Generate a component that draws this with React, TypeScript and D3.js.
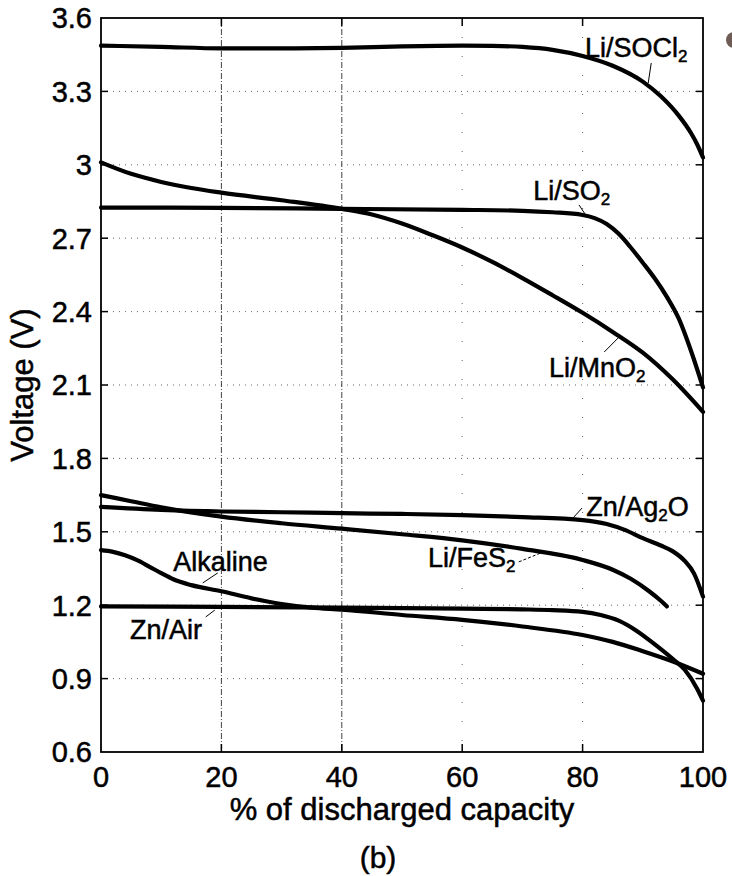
import React, { useEffect } from "react";
import * as d3 from "d3";

// ---- data (percent of discharged capacity, voltage) ----
const xTicks = [0, 20, 40, 60, 80, 100];
const yTicks = [0.6, 0.9, 1.2, 1.5, 1.8, 2.1, 2.4, 2.7, 3.0, 3.3, 3.6];
const yTickLabels = ["0.6", "0.9", "1.2", "1.5", "1.8", "2.1", "2.4", "2.7", "3", "3.3", "3.6"];

const socl2Pct = [0, 10, 20, 30, 40, 50, 60, 65, 70, 75, 80, 85, 90, 93, 96, 98, 99, 100];
const socl2V = [3.487, 3.482, 3.476, 3.476, 3.478, 3.484, 3.487, 3.486, 3.482, 3.47, 3.445, 3.405, 3.34, 3.28, 3.2, 3.13, 3.085, 3.03];

const so2Pct = [0, 20, 40, 60, 70, 75, 80, 82, 84, 86, 88, 90, 92, 94, 96, 98, 100];
const so2V = [2.825, 2.824, 2.82, 2.816, 2.812, 2.806, 2.795, 2.782, 2.758, 2.718, 2.662, 2.6, 2.535, 2.46, 2.37, 2.24, 2.09];

const mno2Pct = [0, 5, 10, 15, 20, 30, 40, 45, 50, 55, 60, 65, 70, 75, 80, 85, 90, 95, 100];
const mno2V = [3.01, 2.963, 2.93, 2.905, 2.886, 2.855, 2.82, 2.797, 2.76, 2.713, 2.662, 2.603, 2.537, 2.467, 2.395, 2.317, 2.232, 2.122, 1.99];

const ag2oPct = [0, 10, 20, 30, 40, 50, 60, 70, 80, 84, 87, 90, 93, 95, 97, 98.5, 100];
const ag2oV = [1.602, 1.59, 1.583, 1.58, 1.576, 1.573, 1.568, 1.56, 1.548, 1.532, 1.508, 1.474, 1.444, 1.42, 1.38, 1.33, 1.235];

const fes2Pct = [0, 5, 10, 20, 30, 40, 50, 60, 70, 80, 85, 88, 91, 93, 94];
const fes2V = [1.65, 1.625, 1.6, 1.562, 1.535, 1.513, 1.49, 1.465, 1.43, 1.385, 1.345, 1.308, 1.258, 1.218, 1.195];

const alkPct = [0, 2, 4, 6, 8, 10, 12, 15, 20, 25, 30, 35, 40, 50, 60, 70, 80, 85, 90, 95, 100];
const alkV = [1.425, 1.418, 1.404, 1.384, 1.358, 1.331, 1.306, 1.282, 1.257, 1.228, 1.205, 1.19, 1.182, 1.16, 1.14, 1.113, 1.078, 1.05, 1.012, 0.97, 0.92];

const airPct = [0, 20, 40, 60, 70, 75, 80, 83, 86, 89, 92, 95, 97, 99, 100];
const airV = [1.195, 1.193, 1.19, 1.186, 1.183, 1.18, 1.173, 1.16, 1.137, 1.095, 1.04, 0.98, 0.935, 0.86, 0.81];

const seriesList = [
  { name: "Li/SOCl2", pct: socl2Pct, v: socl2V },
  { name: "Li/SO2", pct: so2Pct, v: so2V },
  { name: "Li/MnO2", pct: mno2Pct, v: mno2V },
  { name: "Zn/Ag2O", pct: ag2oPct, v: ag2oV },
  { name: "Li/FeS2", pct: fes2Pct, v: fes2V },
  { name: "Alkaline", pct: alkPct, v: alkV },
  { name: "Zn/Air", pct: airPct, v: airV },
];

// label anchors in data units: text parts, x%, baseline V, leader from/to
type Part = { t: string; sub?: boolean };
const annotations: { parts: Part[]; x: number; y: number; l: [number, number, number, number]; dashed?: boolean }[] = [
  { parts: [{ t: "Li/SOCl" }, { t: "2", sub: true }], x: 80.4, y: 3.44, l: [91.4, 3.416, 90.9, 3.334] },
  { parts: [{ t: "Li/SO" }, { t: "2", sub: true }], x: 71.8, y: 2.856, l: [79.4, 2.836, 80.4, 2.799] },
  { parts: [{ t: "Li/MnO" }, { t: "2", sub: true }], x: 74.4, y: 2.133, l: [83.6, 2.235, 85.9, 2.292] },
  { parts: [{ t: "Zn/Ag" }, { t: "2", sub: true }, { t: "O" }], x: 80.6, y: 1.565, l: [78.4, 1.556, 79.9, 1.597] },
  { parts: [{ t: "Li/FeS" }, { t: "2", sub: true }], x: 54.3, y: 1.356, l: [69.4, 1.377, 73.4, 1.417], dashed: true },
  { parts: [{ t: "Alkaline" }], x: 12.0, y: 1.34, l: [16.9, 1.291, 19.4, 1.332] },
  { parts: [{ t: "Zn/Air" }], x: 4.8, y: 1.062, l: [17.4, 1.152, 18.9, 1.18] },
];

const FONT = "'Liberation Sans', Arial, Helvetica, sans-serif";

export default function App() {
  useEffect(() => {
    document.body.style.margin = "0";
  }, []);

  const W = 732, H = 876;
  const left = 101, right = 703, top = 18, bottom = 752;
  const x = d3.scaleLinear().domain([0, 100]).range([left, right]);
  const y = d3.scaleLinear().domain([0.6, 3.6]).range([bottom, top]);

  const line = d3
    .line<[number, number]>()
    .x((d) => x(d[0]))
    .y((d) => y(d[1]))
    .curve(d3.curveMonotoneX);

  const innerX = xTicks.filter((t) => t > 0 && t < 100);
  const innerY = yTicks.filter((t) => t > 0.6 && t < 3.6);
  const textStroke = { stroke: "#000", strokeWidth: 0.5 };

  return (
    <svg width={W} height={H} style={{ position: "absolute", left: 0, top: 0, display: "block", background: "#fff" }} fontFamily={FONT}>
      <rect x={0} y={0} width={W} height={H} fill="#fff" />
      {/* grid */}
      {innerY.map((t) => (
        <line key={"gy" + t} x1={left} x2={right} y1={y(t)} y2={y(t)} stroke="#333" strokeWidth={1} strokeDasharray="1,5" opacity={0.75} />
      ))}
      {innerX.map((t, i) => (
        <line key={"gx" + t} x1={x(t)} x2={x(t)} y1={top} y2={bottom} stroke="#222" strokeWidth={1}
          strokeDasharray={i < 2 ? "6,2,1,2" : "1,18"} opacity={i < 2 ? 0.85 : 0.7} />
      ))}
      {/* ticks */}
      {innerY.map((t) => (
        <g key={"ty" + t}>
          <line x1={left} x2={left + 7} y1={y(t)} y2={y(t)} stroke="#000" strokeWidth={1.5} />
          <line x1={right} x2={right - 7} y1={y(t)} y2={y(t)} stroke="#000" strokeWidth={1.5} />
        </g>
      ))}
      {innerX.map((t) => (
        <g key={"tx" + t}>
          <line x1={x(t)} x2={x(t)} y1={bottom} y2={bottom - 8} stroke="#000" strokeWidth={1.5} />
          <line x1={x(t)} x2={x(t)} y1={top} y2={top + 8} stroke="#000" strokeWidth={1.5} />
        </g>
      ))}
      {/* curves */}
      {seriesList.map((s) => (
        <path key={s.name} d={line(s.pct.map((p, i) => [p, s.v[i]] as [number, number])) || ""} fill="none" stroke="#000" strokeWidth={4.2} strokeLinecap="round" strokeLinejoin="round" />
      ))}
      {/* frame */}
      <rect x={left} y={top} width={right - left} height={bottom - top} fill="none" stroke="#000" strokeWidth={1.8} />
      {/* tick labels */}
      {yTicks.map((t, i) => (
        <text key={"ly" + t} x={left - 9} y={y(t)} dy="0.36em" textAnchor="end" fontSize={29} fill="#000" {...textStroke}>
          {yTickLabels[i]}
        </text>
      ))}
      {xTicks.map((t) => (
        <text key={"lx" + t} x={x(t)} y={787} textAnchor="middle" fontSize={29} fill="#000" {...textStroke}>
          {t}
        </text>
      ))}
      {/* axis titles */}
      <text x={(left + right) / 2} y={820} textAnchor="middle" fontSize={31} fill="#000" {...textStroke}>
        % of discharged capacity
      </text>
      <text transform={`translate(33, ${(top + bottom) / 2}) rotate(-90)`} textAnchor="middle" fontSize={31} fill="#000" {...textStroke}>
        Voltage (V)
      </text>
      <text x={378} y={868} textAnchor="middle" fontSize={30} fill="#000" {...textStroke}>
        (b)
      </text>
      {/* annotations */}
      {annotations.map((a, k) => (
        <g key={"an" + k}>
          <line x1={x(a.l[0])} y1={y(a.l[1])} x2={x(a.l[2])} y2={y(a.l[3])} stroke="#000" strokeWidth={1} strokeDasharray={a.dashed ? "3,2" : undefined} />
          <text x={x(a.x)} y={y(a.y)} fontSize={27} fill="#000" {...textStroke}>
            {a.parts.map((p, j) => {
              const prevSub = j > 0 && a.parts[j - 1].sub;
              return (
                <tspan key={j} fontSize={p.sub ? 17 : 27} dy={p.sub ? 5 : prevSub ? -5 : 0}>
                  {p.t}
                </tspan>
              );
            })}
          </text>
        </g>
      ))}
      {/* decorative dot at the top right of the scan */}
      <circle cx={734} cy={40} r={8} fill="#6f5c57" />
    </svg>
  );
}
